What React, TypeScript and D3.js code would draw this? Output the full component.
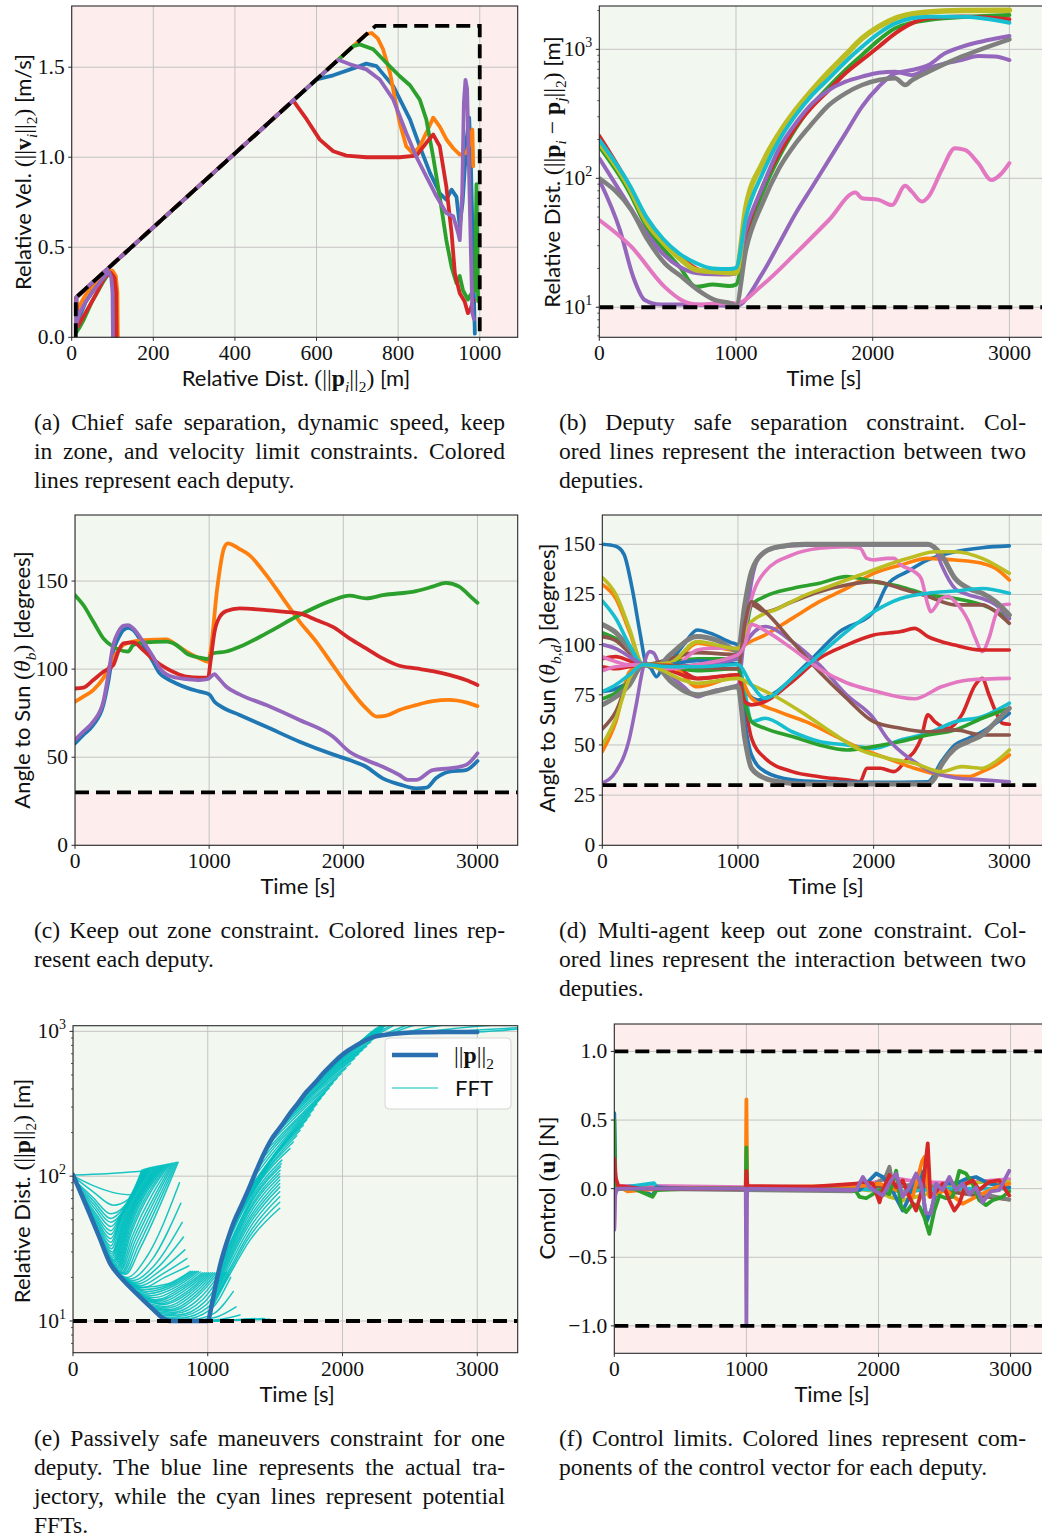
import React, { useLayoutEffect, useRef } from 'react';
import * as d3 from 'd3';

type Pt = [number, number];
type Seg = { t: string; f?: 'sans' | 'serif' | 'bold' | 'it'; sub?: boolean; sup?: boolean };

const SANS = 'Lato, "DejaVu Sans", sans-serif';
const SERIF = '"Liberation Serif", "DejaVu Serif", serif';
const PINK_BG = '#fdeded';
const GREEN_BG = '#f2f7ef';
const GRID = '#c4c4c4';
const SPINE = '#2a2a2a';
const C = {
  blue: '#1f77b4', orange: '#ff7f0e', green: '#2ca02c', red: '#d62728', purple: '#9467bd',
  brown: '#8c564b', pink: '#e377c2', gray: '#7f7f7f', olive: '#bcbd22', cyan: '#17becf',
};

// ---------- (a) speed vs distance ----------
const aXTicks = [0, 200, 400, 600, 800, 1000];
const aYTicks = [0, 0.5, 1.0, 1.5];
const aLimit: Pt[] = [[10, 0], [10, 0.2205], [745, 1.73], [1000, 1.73], [1000, 0]];
const aBlue: Pt[] = [[105, 0], [104, 0.25], [100, 0.33], [93, 0.36], [80, 0.34], [55, 0.27], [35, 0.2], [20, 0.12], [12, 0.06], [11, 0.22], [100, 0.405], [300, 0.816], [500, 1.227], [600, 1.432], [641, 1.455], [706, 1.506], [722, 1.52], [747, 1.506], [788, 1.395], [829, 1.21], [853, 1.06], [878, 0.913], [902, 0.8], [918, 0.764], [931, 0.82], [943, 0.78], [951, 0.62], [958, 0.75], [968, 1.1], [974, 1.22], [978, 1.0], [982, 0.6], [986, 0.2], [988, 0.02]];
const aOrange: Pt[] = [[113, 0], [112, 0.25], [108, 0.34], [100, 0.37], [90, 0.37], [70, 0.33], [45, 0.27], [30, 0.22], [20, 0.18], [12, 0.15], [11, 0.22], [100, 0.405], [300, 0.816], [500, 1.227], [700, 1.638], [722, 1.683], [735, 1.69], [750, 1.66], [763, 1.6], [780, 1.47], [796, 1.28], [804, 1.19], [820, 1.06], [837, 1.02], [853, 1.06], [869, 1.135], [886, 1.22], [902, 1.17], [918, 1.1], [935, 1.05], [951, 1.015], [967, 1.024], [976, 1.08], [982, 1.154], [984, 0.95]];
const aGreen: Pt[] = [[108, 0], [107, 0.25], [102, 0.33], [92, 0.36], [75, 0.3], [50, 0.2], [30, 0.1], [18, 0.05], [12, 0.03], [11, 0.22], [100, 0.405], [300, 0.816], [500, 1.227], [690, 1.617], [706, 1.627], [739, 1.6], [771, 1.525], [804, 1.45], [829, 1.4], [853, 1.32], [869, 1.21], [886, 1.0], [902, 0.78], [918, 0.54], [931, 0.39], [943, 0.3], [951, 0.34], [959, 0.26], [971, 0.21], [980, 0.245], [988, 0.26], [992, 0.85], [996, 0.2]];
const aRed: Pt[] = [[110, 0], [109, 0.25], [105, 0.33], [95, 0.36], [80, 0.33], [60, 0.24], [40, 0.16], [25, 0.1], [15, 0.06], [11, 0.22], [100, 0.405], [300, 0.816], [543, 1.315], [576, 1.21], [608, 1.098], [641, 1.033], [673, 1.009], [722, 1.0], [804, 1.0], [845, 1.009], [869, 1.08], [886, 1.126], [902, 1.061], [918, 0.839], [931, 0.579], [939, 0.356], [951, 0.245], [963, 0.199], [971, 0.134], [978, 0.16], [984, 0.208]];
const aPurple: Pt[] = [[101, 0], [100, 0.25], [97, 0.33], [92, 0.36], [85, 0.35], [60, 0.28], [35, 0.2], [20, 0.14], [12, 0.08], [11, 0.05], [11, 0.2], [12, 0.225], [100, 0.405], [300, 0.816], [500, 1.227], [653, 1.541], [682, 1.516], [722, 1.488], [755, 1.432], [788, 1.321], [820, 1.135], [845, 1.0], [869, 0.894], [894, 0.783], [918, 0.69], [935, 0.672], [947, 0.579], [951, 0.54], [957, 0.8], [961, 1.3], [965, 1.43], [969, 1.38], [973, 1.0], [978, 0.5], [982, 0.134], [986, 0.1]];

// ---------- (b) deputy separation ----------
const timeTicks = [0, 1000, 2000, 3000];
const bYTicks = [10, 100, 1000];
const bMinor = [6, 7, 8, 9, 20, 30, 40, 50, 60, 70, 80, 90, 200, 300, 400, 500, 600, 700, 800, 900, 2000];
const bGreen: Pt[] = [[0, 176], [223, 77], [345, 42], [466, 28.6], [587, 20.6], [708, 14.4], [830, 15], [951, 14.6], [1000, 15], [1073, 33], [1194, 77], [1316, 147], [1437, 244], [1558, 370], [1680, 513], [1801, 691], [1922, 904], [2044, 1180], [2165, 1455], [2408, 1690], [3000, 1845]];
const bRed: Pt[] = [[0, 213], [223, 86], [345, 47.5], [466, 33], [587, 24.7], [708, 20], [830, 18.1], [951, 18], [1000, 18.4], [1073, 37.5], [1194, 86], [1316, 156], [1437, 251], [1558, 360], [1680, 484], [1801, 652], [1922, 826], [2044, 1047], [2165, 1330], [2286, 1590], [2408, 1740], [2650, 1800], [3000, 1710]];
const bPurpleA: Pt[] = [[0, 143], [223, 60], [345, 37.5], [466, 26], [587, 20.6], [708, 18.4], [830, 18], [951, 18], [1000, 18.4], [1073, 39.8], [1194, 86], [1316, 171], [1437, 267], [1558, 381], [1680, 484], [1801, 561], [1922, 614], [2044, 659], [2165, 671], [2286, 631], [2408, 713], [2529, 777], [2650, 826], [2772, 887], [2893, 879], [3000, 826]];
const bPurpleB: Pt[] = [[0, 97], [150, 40], [250, 17], [332, 11.4], [450, 10.5], [660, 10.5], [1000, 10.2], [1194, 18.4], [1316, 31.3], [1437, 53.6], [1558, 86], [1680, 139], [1801, 223], [1922, 360], [2044, 513], [2165, 652], [2286, 691], [2408, 757], [2529, 931], [2650, 1047], [2845, 1180], [3000, 1270]];
const bPink: Pt[] = [[0, 47.5], [234, 29.5], [478, 14.4], [600, 11.4], [722, 10.5], [966, 10.8], [1000, 10.7], [1194, 14.9], [1437, 26.2], [1680, 47.5], [1874, 77.5], [1922, 70], [2044, 68], [2141, 62], [2238, 87.5], [2286, 78.8], [2359, 66], [2408, 72], [2505, 116], [2602, 171], [2675, 166], [2772, 131], [2869, 97], [2942, 109], [3000, 131]];
const bGray: Pt[] = [[0, 100], [234, 56.8], [356, 33], [478, 22], [600, 17.3], [722, 13.6], [844, 11.4], [966, 10.7], [1000, 10.3], [1073, 27.8], [1194, 64], [1316, 120], [1437, 187], [1558, 267], [1680, 370], [1801, 456], [1922, 529], [2044, 578], [2165, 596], [2238, 529], [2286, 575], [2408, 671], [2650, 877], [3000, 1197]];
const bOlive: Pt[] = [[0, 190], [223, 84], [345, 46], [466, 32], [587, 24], [708, 19.5], [830, 18.9], [1000, 18.5], [1073, 60], [1194, 131], [1316, 223], [1437, 339], [1558, 484], [1680, 671], [1801, 904], [1922, 1217], [2044, 1500], [2165, 1740], [2286, 1880], [2408, 1950], [2650, 2000], [3000, 2010]];
const bCyan: Pt[] = [[0, 198], [223, 88], [345, 50], [466, 34], [587, 26], [708, 22], [830, 20], [951, 19.8], [1000, 20.2], [1073, 50], [1194, 109], [1316, 198], [1437, 309], [1558, 443], [1680, 596], [1801, 802], [1922, 1047], [2044, 1330], [2165, 1590], [2286, 1740], [2408, 1790], [2650, 1790], [3000, 1610]];

// ---------- (c) keep out zone ----------
const cYTicks = [0, 50, 100, 150];
const cBlue: Pt[] = [[0, 57.9], [62, 62.6], [136, 68.3], [211, 79.6], [248, 92.9], [285, 110], [323, 117.5], [360, 122.2], [397, 123.5], [434, 122.2], [508, 113.7], [582, 104.2], [632, 97.6], [682, 94.8], [756, 91.9], [831, 89.5], [930, 87.2], [1000, 85.7], [1040, 81.5], [1090, 78.7], [1227, 74], [1426, 67.3], [1674, 58.8], [1922, 51.6], [2046, 48.4], [2170, 44.6], [2294, 38], [2418, 34.6], [2542, 32.3], [2620, 32.7], [2690, 38], [2790, 41.8], [2914, 42.7], [3000, 47.9]];
const cOrange: Pt[] = [[0, 81.5], [62, 84.4], [136, 88.1], [211, 94.8], [285, 106], [360, 113.7], [434, 115.6], [508, 116.5], [682, 116.9], [756, 113.7], [831, 110], [930, 106.1], [992, 104.2], [1010, 110], [1060, 145.8], [1110, 168.5], [1140, 171.4], [1220, 168.5], [1300, 164.7], [1426, 153.4], [1550, 140.2], [1674, 127], [1798, 115.6], [1922, 102.3], [2046, 89], [2170, 77.7], [2250, 73], [2320, 73.6], [2418, 76.8], [2542, 79.6], [2666, 81.9], [2790, 82.5], [2914, 81.1], [3000, 79]];
const cGreen: Pt[] = [[0, 142], [62, 136.4], [136, 127], [211, 117.5], [285, 112.7], [360, 110.3], [397, 110], [434, 113.7], [508, 115], [682, 115.6], [756, 113.7], [831, 109], [930, 106.5], [992, 105.7], [1029, 109], [1128, 110], [1227, 112.7], [1426, 120.3], [1674, 130.7], [1922, 139.2], [2046, 141.7], [2170, 140.2], [2294, 142], [2542, 144.3], [2666, 146.8], [2765, 149], [2864, 146.8], [2963, 140.2], [3000, 137.7]];
const cRed: Pt[] = [[0, 89], [62, 89.5], [136, 93.8], [211, 98.5], [285, 102.3], [323, 110], [360, 114.6], [434, 115.2], [508, 110.8], [582, 105.7], [682, 100.4], [756, 97.6], [831, 95.7], [930, 95.1], [992, 95.1], [1010, 104.2], [1040, 121.2], [1080, 129.8], [1128, 133], [1227, 134.5], [1426, 133.5], [1550, 132.6], [1674, 131.6], [1798, 127.9], [1922, 124], [2046, 117.5], [2170, 111.8], [2294, 106.1], [2418, 101.9], [2542, 100.4], [2666, 98.9], [2790, 96.7], [2914, 93.8], [3000, 91]];
const cPurple: Pt[] = [[0, 59.8], [62, 64.5], [136, 70.2], [211, 81.5], [248, 96.7], [285, 113.7], [323, 121.2], [360, 124.6], [397, 125], [434, 123.1], [508, 115.6], [582, 107], [632, 100.4], [682, 97], [756, 95.1], [831, 94.4], [930, 93.8], [992, 94.4], [1040, 97.2], [1060, 95.7], [1128, 90], [1227, 85.7], [1426, 79.6], [1674, 71.1], [1922, 61.7], [2046, 53.1], [2170, 48.4], [2294, 44.6], [2418, 39.9], [2480, 37.1], [2542, 37.1], [2666, 42.7], [2790, 43.7], [2914, 45.6], [3000, 52.2]];

// ---------- (d) multi-agent keep out zone ----------
const dYTicks = [0, 25, 50, 75, 100, 125, 150];
const dBlueA: Pt[] = [[0, 150], [100, 149], [160, 145], [220, 128], [280, 105], [320, 91], [360, 88], [400, 84], [440, 88], [500, 91.5], [600, 100], [700, 107.3], [800, 105.6], [950, 101], [1000, 99.8], [1030, 83], [1080, 75], [1150, 72.4], [1250, 75], [1500, 89.9], [1750, 106.5], [2000, 116.4], [2100, 129.7], [2250, 136.4], [2400, 142.2], [2600, 146.3], [2800, 148.3], [3000, 149.2]];
const dOrangeA: Pt[] = [[0, 130], [100, 123], [200, 106.5], [300, 90], [500, 90], [700, 100.7], [1000, 97], [1050, 99.8], [1200, 104.8], [1400, 113.1], [1600, 121.4], [1800, 128], [2000, 135.5], [2200, 139.7], [2400, 143], [2600, 142.2], [2800, 140.5], [2900, 138], [3000, 132.2]];
const dGreenA: Pt[] = [[0, 106], [100, 103], [200, 98], [300, 90], [500, 91], [700, 93], [1000, 93], [1050, 103.2], [1100, 119.8], [1200, 124], [1400, 128], [1600, 130.6], [1800, 133.9], [1900, 133], [2000, 131.4], [2200, 128.9], [2400, 124.8], [2600, 123], [2800, 119.8], [3000, 113.1]];
const dRedA: Pt[] = [[0, 93], [100, 94], [200, 92], [300, 90], [500, 90], [700, 83.2], [1000, 84.9], [1050, 70], [1100, 53.3], [1200, 43.4], [1400, 36.7], [1600, 34.2], [1800, 32.6], [1900, 31.7], [1950, 38.4], [2050, 38.4], [2150, 36.7], [2250, 43.4], [2300, 46.7], [2350, 53.3], [2400, 65], [2450, 61.6], [2550, 58.3], [2650, 65], [2750, 80], [2800, 83.2], [2850, 75], [2900, 66.6], [2950, 60.8], [3000, 60.3]];
const dPurpleA: Pt[] = [[0, 31], [100, 36.7], [200, 53.3], [250, 70], [300, 88.2], [350, 96.5], [380, 95.7], [420, 89.9], [500, 84.9], [600, 79], [700, 74], [800, 76.6], [1000, 80], [1050, 106.5], [1100, 131.4], [1150, 143], [1250, 148], [1500, 149.5], [2400, 149.7], [2450, 148], [2500, 139.7], [2600, 128], [2700, 124.8], [2800, 123], [2900, 119.8], [3000, 113]];
const dBrownA: Pt[] = [[0, 104], [100, 102], [200, 96], [300, 90], [700, 96], [1000, 95], [1050, 113], [1100, 119.8], [1200, 116.4], [1400, 121.4], [1600, 126.4], [1800, 129.7], [2000, 131.4], [2200, 128], [2400, 124], [2600, 119.8], [2800, 119.8], [2900, 116.4], [3000, 110.6]];
const dPinkA: Pt[] = [[0, 94], [100, 91.5], [200, 90], [300, 90], [500, 88], [700, 97.3], [800, 98.2], [1000, 98.2], [1050, 108], [1100, 123], [1200, 136.4], [1400, 144.7], [1600, 148], [1800, 148.8], [1900, 148], [1950, 143], [2000, 142.2], [2100, 143], [2150, 143], [2200, 139.7], [2300, 136.4], [2350, 133], [2400, 119.8], [2420, 116.4], [2500, 123], [2550, 124], [2600, 121.4], [2700, 111.5], [2750, 103.2], [2800, 96.5], [2850, 103.2], [2900, 114.8], [2950, 119.8], [3000, 120.1]];
const dGrayA: Pt[] = [[0, 110], [100, 106], [200, 98], [300, 90], [400, 89], [500, 95], [700, 104], [850, 102], [1000, 97], [1050, 119.8], [1100, 136.4], [1200, 146.3], [1300, 148.8], [1500, 150], [2400, 150], [2500, 144.7], [2600, 133], [2700, 128], [2800, 125.6], [2900, 121.4], [3000, 114.8]];
const dOliveA: Pt[] = [[0, 133.4], [100, 125], [200, 108], [300, 90], [500, 91], [700, 101.5], [1000, 98], [1100, 111.5], [1300, 118.1], [1500, 124.8], [1700, 129.7], [1900, 134.7], [2100, 139.7], [2300, 143.9], [2450, 146.3], [2600, 146.3], [2800, 143], [3000, 135.5]];
const dCyanA: Pt[] = [[0, 121.8], [100, 113], [200, 99.8], [300, 90], [500, 89], [700, 88], [1000, 90.7], [1050, 76.6], [1100, 61.6], [1200, 63.3], [1400, 56.6], [1600, 51.7], [1800, 50], [2000, 48.3], [2200, 52.5], [2400, 55.8], [2600, 61.6], [2800, 64.1], [3000, 70.8]];
const dBlueB: Pt[] = [[0, 76.6], [100, 78], [200, 82], [300, 90], [400, 89], [500, 90], [700, 92], [900, 91], [1000, 90], [1050, 61.6], [1100, 45], [1200, 36.7], [1400, 32.6], [1600, 31.7], [2000, 31.4], [2400, 31.7], [2500, 41.7], [2600, 50], [2700, 53.3], [2800, 56.6], [2900, 60.8], [3000, 65.8]];
const dOrangeB: Pt[] = [[0, 46.7], [100, 61.6], [200, 86.5], [300, 90], [500, 90], [700, 79], [1000, 84], [1100, 73.3], [1300, 66.6], [1500, 61.6], [1700, 55], [1900, 48.3], [2100, 43.4], [2300, 38.4], [2500, 35], [2700, 34.2], [2800, 36.7], [2900, 40], [3000, 45]];
const dGreenB: Pt[] = [[0, 73], [100, 76], [200, 82], [300, 90], [500, 89], [700, 87], [1000, 88], [1050, 71.6], [1100, 61.6], [1200, 58.3], [1400, 54.2], [1600, 50], [1800, 47.5], [2000, 49.2], [2200, 51.7], [2400, 55], [2600, 57.5], [2800, 63.3], [3000, 68.3]];
const dRedB: Pt[] = [[0, 89], [100, 88], [200, 89], [300, 90], [500, 87], [700, 83], [1000, 85], [1050, 71.6], [1100, 70], [1200, 71.6], [1400, 81.6], [1600, 93.2], [1800, 99.8], [2000, 104.8], [2200, 106.5], [2300, 108.1], [2400, 104], [2600, 99.8], [2800, 97.3], [3000, 97.3]];
const dPurpleB: Pt[] = [[0, 100], [100, 98], [200, 94], [300, 90], [500, 89], [700, 90], [1000, 93], [1050, 100], [1200, 109], [1400, 101.5], [1600, 89.9], [1800, 75], [2000, 63.3], [2100, 53.3], [2200, 46.7], [2300, 41.7], [2400, 37.5], [2500, 35], [2600, 33.7], [2800, 32.6], [3000, 31.7]];
const dBrownB: Pt[] = [[0, 58], [100, 66.6], [200, 83.2], [300, 90], [1000, 88], [1050, 110], [1100, 121.4], [1200, 116.4], [1400, 101.5], [1600, 86.5], [1800, 73.3], [2000, 61.6], [2200, 58.3], [2400, 56.6], [2600, 57.5], [2800, 55], [3000, 55]];
const dPinkB: Pt[] = [[0, 87], [100, 89], [300, 90], [500, 88], [700, 90], [1000, 95], [1050, 100], [1100, 110], [1200, 107], [1400, 98], [1600, 88], [1800, 81], [2000, 77], [2300, 73], [2500, 79], [2700, 82.4], [3000, 83.2]];
const dGrayB: Pt[] = [[0, 70], [100, 74], [200, 80], [300, 90], [400, 89], [500, 82], [700, 75], [850, 77], [1000, 79], [1050, 53.3], [1100, 38.4], [1200, 33.4], [1300, 31.7], [1500, 30.5], [2400, 30.5], [2450, 33.4], [2500, 40], [2600, 48.3], [2700, 51.7], [2800, 55], [2900, 61.6], [3000, 68.3]];
const dOliveB: Pt[] = [[0, 50], [100, 63.3], [200, 83.2], [300, 90], [700, 80.7], [1000, 83.2], [1100, 80], [1300, 73.3], [1500, 65], [1700, 55.8], [1900, 47.5], [2100, 43.4], [2300, 40.9], [2500, 36.7], [2650, 39.2], [2800, 38.4], [2900, 41.7], [3000, 47.5]];
const dCyanB: Pt[] = [[0, 76.6], [100, 80], [200, 85], [300, 90], [500, 89], [700, 89], [1000, 90], [1100, 80], [1200, 73.3], [1400, 83.2], [1600, 94.9], [1800, 106.5], [2000, 116.4], [2200, 123], [2400, 125.6], [2600, 126.7], [2800, 128], [3000, 125.6]];

// ---------- (e) passive safety, one deputy ----------
const eYTicks = [10, 100, 1000];
const eMinor = [7, 8, 9, 20, 30, 40, 50, 60, 70, 80, 90, 200, 300, 400, 500, 600, 700, 800, 900];
const eTraj: Pt[] = [[0, 102], [100, 62], [200, 37], [275, 25], [300, 23], [350, 20.2], [470, 15.5], [600, 11.9], [670, 10.4], [720, 10], [1000, 10], [1030, 13], [1060, 18], [1100, 26], [1150, 37], [1200, 50], [1250, 63], [1300, 80], [1362, 110], [1420, 145], [1485, 187], [1550, 225], [1608, 270], [1670, 320], [1732, 381], [1800, 445], [1855, 511], [1920, 590], [1979, 665], [2040, 735], [2103, 800], [2170, 865], [2226, 913], [2290, 940], [2350, 955], [2450, 975], [2600, 985], [3000, 990]];
const fftEarly: Pt[][] = [
  [[0, 102], [250, 104], [509, 108]],
  [[5, 100], [150, 86], [300, 77], [447, 74]],
  [[10, 98], [150, 78], [300, 63], [400, 68], [510, 110]],
  [[20, 92], [150, 71], [280, 55], [380, 62], [520, 111]],
  [[28, 89], [155, 67], [280, 51], [375, 60], [528, 111.5]],
  [[35, 86], [160, 63], [280, 48], [370, 57], [535, 112]],
  [[43, 83], [165, 59], [280, 45], [365, 56], [542, 112.5]],
  [[50, 80], [170, 55], [280, 42], [360, 55], [550, 113]],
  [[57, 77], [175, 52], [280, 39.5], [360, 54], [557, 113.5]],
  [[65, 74], [180, 49], [280, 37], [360, 53], [565, 114]],
  [[72, 71], [185, 46.5], [280, 35], [360, 52], [572, 114.5]],
  [[80, 69], [190, 44], [280, 33], [360, 51], [580, 115]],
  [[90, 65], [195, 41.5], [285, 31.5], [365, 50], [590, 115.5]],
  [[100, 62], [200, 39], [290, 30], [370, 49], [600, 116]],
  [[110, 59], [205, 37.5], [290, 29], [375, 48.5], [610, 116.5]],
  [[120, 56], [210, 36], [290, 28], [380, 48], [620, 117]],
  [[130, 53], [215, 34.5], [295, 27.2], [385, 47.5], [630, 117.5]],
  [[140, 51], [220, 33], [300, 26.5], [390, 47], [640, 118]],
  [[150, 48], [225, 31.7], [305, 26], [395, 46.5], [650, 118.5]],
  [[160, 46], [230, 30.5], [310, 25.5], [400, 46], [660, 119]],
  [[170, 43.5], [235, 29.7], [315, 25], [405, 45.5], [670, 119.5]],
  [[180, 41], [240, 29], [320, 24.5], [410, 45], [680, 120]],
  [[190, 39], [250, 28.2], [325, 24], [415, 44], [690, 120.5]],
  [[200, 37], [260, 27.5], [330, 23.5], [420, 43], [700, 121]],
  [[210, 35], [270, 26.5], [335, 23.2], [425, 41.5], [710, 121.5]],
  [[220, 33.5], [280, 25.5], [340, 22.8], [430, 40], [720, 122]],
  [[230, 31.7], [285, 25], [345, 22.4], [440, 38.5], [730, 122.5]],
  [[240, 30], [290, 24.5], [350, 22], [450, 37], [740, 123]],
  [[250, 28.5], [300, 24], [360, 21.7], [460, 35.5], [750, 123.5]],
  [[260, 27], [310, 23.5], [370, 21.5], [470, 34], [760, 124]],
  [[270, 25.7], [320, 22.7], [380, 21.2], [485, 33], [770, 124.5]],
  [[280, 24.5], [330, 22], [390, 21], [500, 32], [780, 125]],
  [[290, 23.5], [400, 20], [550, 28], [790, 90]],
  [[300, 23], [420, 19.5], [580, 26], [800, 65]],
  [[310, 22.4], [440, 19], [600, 24], [810, 48]],
  [[320, 21.8], [460, 18.5], [620, 23], [820, 38]],
  [[330, 21.3], [480, 18], [640, 22], [830, 31]],
  [[345, 20.6], [500, 17.5], [660, 21], [845, 27]],
  [[360, 20], [520, 17], [680, 20], [860, 24]],
];
const fftMid: Pt[][] = [
  [[370, 19.6], [500, 17], [700, 18], [870, 22]],
  [[385, 19], [525, 16.5], [725, 18], [885, 22]],
  [[400, 18.5], [550, 16], [750, 18], [900, 22]],
  [[415, 17.8], [565, 15.5], [765, 17.8], [915, 22]],
  [[430, 17], [580, 15], [780, 17.5], [930, 22]],
  [[445, 16.5], [595, 14.5], [795, 17.2], [945, 21.8]],
  [[460, 16], [610, 14], [810, 17], [960, 21.5]],
  [[475, 15.5], [625, 13.8], [825, 16.8], [975, 21.5]],
  [[490, 15], [640, 13.5], [840, 16.5], [990, 21.5]],
  [[505, 14.5], [655, 13.2], [855, 16.2], [1005, 21.5]],
  [[520, 14], [670, 13], [870, 16], [1020, 21.5]],
  [[535, 13.5], [685, 12.6], [885, 15.8], [1035, 21.5]],
  [[550, 13], [700, 12.3], [900, 15.5], [1050, 21.5]],
  [[565, 12.6], [715, 12], [915, 15.2], [1065, 21.5]],
  [[580, 12.3], [730, 11.8], [930, 15], [1080, 21.5]],
  [[595, 12], [745, 11.5], [945, 14.5], [1095, 21.5]],
  [[610, 11.6], [760, 11.3], [960, 14], [1110, 21.5]],
  [[625, 11.3], [775, 11], [975, 13.5], [1125, 21.6]],
  [[640, 11], [790, 10.8], [990, 13], [1140, 21.8]],
  [[655, 10.7], [805, 10.5], [1005, 12.5], [1155, 21]],
  [[670, 10.4], [820, 10.3], [1020, 12], [1170, 20]],
  [[690, 10.2], [840, 10.1], [1040, 11.2], [1190, 16]],
  [[710, 10], [860, 10], [1060, 10.6], [1210, 12.5]],
  [[740, 10], [900, 10], [1100, 10.3], [1240, 11]],
  [[780, 10], [1000, 10], [1300, 10.3]],
  [[850, 10], [1100, 10.1], [1350, 10.4]],
  [[920, 10], [1150, 10.1], [1420, 10.4]],
  [[990, 10], [1200, 10.1], [1460, 10.3]],
];
const fftLate: Pt[][] = [
  [[1025, 12], [1164, 21], [1312, 36], [1534, 60]],
  [[1030, 12.7], [1164, 22], [1312, 38.5], [1534, 66]],
  [[1035, 13.5], [1164, 23], [1312, 41], [1534, 72]],
  [[1040, 14.2], [1164, 24.5], [1312, 44], [1534, 78]],
  [[1045, 15], [1164, 26], [1312, 47], [1534, 84]],
  [[1050, 16], [1167, 27.5], [1312, 49.5], [1534, 89]],
  [[1055, 17], [1170, 29], [1312, 52], [1534, 94]],
  [[1060, 18], [1172, 30.5], [1312, 55], [1534, 99]],
  [[1065, 19], [1175, 32], [1312, 58], [1534, 104]],
  [[1072, 20.5], [1180, 34], [1316, 61], [1537, 110]],
  [[1080, 22], [1185, 36], [1320, 65], [1540, 116]],
  [[1088, 23.5], [1190, 38], [1325, 68], [1545, 122]],
  [[1095, 25], [1195, 40], [1330, 72], [1550, 129]],
  [[1120, 30], [1250, 55], [1400, 95], [1610, 155]],
  [[1135, 33], [1265, 60], [1425, 105], [1635, 172]],
  [[1150, 37], [1280, 65], [1450, 115], [1660, 190]],
  [[1175, 43], [1315, 75], [1475, 128], [1685, 207]],
  [[1200, 50], [1350, 85], [1500, 140], [1710, 225]],
  [[1225, 56], [1375, 95], [1530, 152], [1735, 245]],
  [[1250, 63], [1400, 105], [1560, 165], [1760, 265]],
  [[1275, 71], [1425, 115], [1590, 182], [1785, 290]],
  [[1300, 80], [1450, 125], [1620, 200], [1810, 315]],
  [[1330, 95], [1475, 142], [1650, 222], [1840, 345]],
  [[1362, 110], [1500, 160], [1680, 245], [1870, 375]],
  [[1390, 127], [1530, 180], [1710, 270], [1900, 405]],
  [[1420, 145], [1560, 200], [1740, 295], [1930, 440]],
  [[1450, 165], [1590, 225], [1770, 328], [1960, 475]],
  [[1485, 187], [1620, 250], [1800, 360], [1990, 510]],
  [[1515, 205], [1650, 275], [1830, 395], [2025, 555]],
  [[1550, 225], [1680, 300], [1860, 430], [2060, 600]],
  [[1580, 248], [1710, 328], [1890, 465], [2090, 650]],
  [[1608, 270], [1740, 355], [1920, 500], [2120, 700]],
  [[1640, 295], [1770, 388], [1950, 540], [2150, 745]],
  [[1670, 320], [1800, 420], [1980, 580], [2180, 790]],
  [[1700, 350], [1830, 455], [2010, 620], [2210, 845]],
  [[1732, 381], [1860, 490], [2040, 660], [2240, 900]],
  [[1765, 412], [1890, 525], [2070, 710], [2270, 975]],
  [[1800, 445], [1920, 560], [2100, 760], [2300, 1050]],
  [[1830, 480], [1950, 600], [2130, 820], [2330, 1120]],
  [[1855, 511], [1980, 640], [2160, 880], [2360, 1200]],
  [[1890, 550], [2010, 680], [2190, 940]],
  [[1920, 590], [2040, 720], [2220, 1000]],
  [[1950, 628], [2070, 760], [2250, 1050]],
  [[1979, 665], [2100, 800], [2280, 1100]],
  [[2040, 735], [2170, 880], [2340, 1200]],
  [[2103, 800], [2226, 950], [2400, 1250]],
  [[2170, 865], [2290, 1010], [2450, 1250]],
  [[2226, 913], [2350, 1060], [2500, 1250]],
  [[2290, 940], [2450, 1080], [2600, 1250]],
  [[2350, 955], [2500, 1080], [2700, 1200]],
  [[2450, 975], [2650, 1070], [2900, 1150]],
  [[2600, 985], [2800, 1040], [3100, 1100]],
  [[2800, 988], [3000, 1020], [3300, 1060]],
  [[3000, 990], [3150, 1010], [3300, 1040]],
];

// ---------- (f) control ----------
const fYTicks = [-1.0, -0.5, 0.0, 0.5, 1.0];
const fBlue: Pt[] = [[0, 0.55], [8, 0.1], [20, 0], [150, 0.01], [290, -0.05], [320, 0.01], [600, 0], [995, 0], [1000, -0.06], [1010, 0], [1800, 0], [1857, -0.01], [1907, 0.036], [1982, 0.11], [2033, 0.085], [2108, -0.02], [2184, -0.16], [2234, -0.06], [2285, 0.085], [2322, 0.13], [2360, -0.25], [2398, -0.16], [2448, 0.01], [2511, 0.036], [2587, 0.036], [2662, 0.07], [2738, 0.085], [2838, 0.036], [2990, 0.01]];
const fOrange: Pt[] = [[0, 0.1], [10, 0.05], [30, 0.02], [100, -0.02], [200, -0.01], [400, 0], [995, 0], [1000, 0.65], [1006, 0.02], [1050, 0.01], [1800, 0.02], [1882, 0.02], [2008, 0.036], [2134, -0.01], [2259, -0.06], [2330, 0.2], [2348, 0.23], [2385, -0.06], [2511, -0.01], [2637, -0.11], [2738, -0.06], [2889, 0.01], [2990, 0.036]];
const fGreen: Pt[] = [[0, 0.5], [6, 0.1], [20, 0], [150, 0], [290, -0.06], [320, -0.01], [600, 0], [995, 0], [1000, 0.3], [1006, 0.01], [1800, -0.01], [1831, -0.02], [1857, -0.06], [1907, -0.07], [2008, -0.01], [2083, -0.04], [2134, 0.13], [2171, -0.13], [2209, -0.17], [2259, -0.11], [2310, -0.13], [2348, -0.21], [2385, -0.33], [2423, -0.16], [2461, -0.05], [2511, -0.07], [2561, -0.06], [2612, 0.13], [2662, 0.11], [2713, 0.036], [2763, -0.085], [2814, -0.12], [2864, -0.085], [2940, -0.06], [2990, -0.02]];
const fRed: Pt[] = [[0, 0.22], [10, 0.08], [30, 0.02], [200, 0], [995, 0], [1000, 0.13], [1008, 0.02], [1500, 0.015], [1831, 0.036], [1882, 0.05], [1957, 0.036], [2008, -0.1], [2033, -0.01], [2083, 0.1], [2134, 0.01], [2184, 0.06], [2234, -0.06], [2285, -0.16], [2335, 0.01], [2373, 0.33], [2393, -0.06], [2436, -0.02], [2486, 0.036], [2536, -0.085], [2574, -0.16], [2612, -0.11], [2662, 0.036], [2713, 0.06], [2763, -0.01], [2838, 0.05], [2914, 0.06], [2990, -0.05]];
const fPurple: Pt[] = [[0, -0.3], [6, -0.05], [20, 0], [995, 0], [1000, -1.0], [1005, -0.02], [1020, 0], [1800, -0.01], [1831, -0.01], [1882, 0.085], [1932, 0.01], [1982, -0.02], [2033, -0.05], [2096, 0.06], [2134, 0.11], [2184, -0.06], [2234, 0.01], [2285, 0.11], [2322, 0.036], [2360, -0.18], [2398, -0.18], [2436, 0.036], [2486, -0.01], [2536, 0.085], [2587, -0.01], [2637, 0.036], [2688, -0.04], [2738, 0.01], [2788, -0.1], [2851, -0.02], [2914, -0.01], [2990, 0.13]];
const fGray: Pt[] = [[0, 0.02], [20, 0], [1800, -0.02], [1950, 0.02], [2050, 0.08], [2083, 0.16], [2110, 0.02], [2300, 0.03], [2600, 0.0], [2990, -0.08]];
const fOlive: Pt[] = [[0, 0], [1800, 0], [2000, -0.02], [2083, -0.06], [2184, -0.085], [2285, -0.06], [2400, -0.03], [2600, 0.03], [2800, 0.05], [2990, 0.05]];
const fPink: Pt[] = [[0, -0.28], [8, -0.02], [60, 0.02], [150, 0.02], [300, 0.02], [1800, 0.0], [2100, 0.08], [2300, 0.05], [2600, 0.04], [2990, 0.07]];
const fCyan: Pt[] = [[0, 0.0], [300, 0.04], [330, 0.0], [1800, 0], [2200, -0.02], [2500, 0.0], [2990, 0.0]];
const fBrown: Pt[] = [[0, 0.0], [1800, 0.0], [2200, 0.02], [2990, -0.08]];

// ---------- captions ----------
const capA = ['(a) Chief safe separation, dynamic speed, keep', 'in zone, and velocity limit constraints. Colored', 'lines represent each deputy.'];
const capB = ['(b) Deputy safe separation constraint. Col-', 'ored lines represent the interaction between two', 'deputies.'];
const capC = ['(c) Keep out zone constraint. Colored lines rep-', 'resent each deputy.'];
const capD = ['(d) Multi-agent keep out zone constraint. Col-', 'ored lines represent the interaction between two', 'deputies.'];
const capE = ['(e) Passively safe maneuvers constraint for one', 'deputy. The blue line represents the actual tra-', 'jectory, while the cyan lines represent potential', 'FFTs.'];
const capF = ['(f) Control limits. Colored lines represent com-', 'ponents of the control vector for each deputy.'];

// ---------- scales ----------
const xA = d3.scaleLinear().domain([0, 1093]).range([71.7, 517.7]);
const yA = d3.scaleLinear().domain([0, 1.84]).range([337.3, 6]);
const xB = d3.scaleLinear().domain([0, 3300]).range([599.3, 1050.4]);
const yB = d3.scaleLog().domain([5.85, 2168]).range([337.3, 6]);
const xC = d3.scaleLinear().domain([0, 3300]).range([75, 517.7]);
const yC = d3.scaleLinear().domain([0, 187.5]).range([845.3, 515]);
const xD = d3.scaleLinear().domain([0, 3300]).range([602.3, 1050]);
const yD = d3.scaleLinear().domain([0, 164.6]).range([845.3, 515]);
const xE = d3.scaleLinear().domain([0, 3300]).range([73, 517.7]);
const yE = d3.scaleLog().domain([6.04, 1094]).range([1352.7, 1025.7]);
const xF = d3.scaleLinear().domain([0, 3300]).range([614.3, 1050.2]);
const yF = d3.scaleLinear().domain([-1.2, 1.2]).range([1353.3, 1024]);

type Scale = (v: number) => number;

function Line({ data, x, y, color, w = 3.8, curve = d3.curveLinear, op = 1 }: { data: Pt[]; x: Scale; y: Scale; color: string; w?: number; curve?: d3.CurveFactory; op?: number }) {
  const gen = d3.line<Pt>().x(d => x(d[0])).y(d => y(d[1])).curve(curve);
  return <path d={gen(data) || ''} fill="none" stroke={color} strokeWidth={w} strokeOpacity={op} strokeLinejoin="round" strokeLinecap="round" />;
}

function Dash({ x0, x1, y0, y1 }: { x0: number; x1: number; y0: number; y1: number }) {
  return <line x1={x0} x2={x1} y1={y0} y2={y1} stroke="#000" strokeWidth={3.8} strokeDasharray="14 7" />;
}

// text with mixed sans words and serif math; sub/superscripts via dy
function MText({ x, y, segs, size = 22, anchor = 'middle', rotate = false }: { x: number; y: number; segs: Seg[]; size?: number; anchor?: string; rotate?: boolean }) {
  let cur = 0;
  return (
    <text x={x} y={y} textAnchor={anchor} fill="#111" transform={rotate ? `rotate(-90 ${x} ${y})` : undefined}>
      {segs.map((s, i) => {
        const target = s.sub ? size * 0.28 : s.sup ? -size * 0.42 : 0;
        const dy = target - cur;
        cur = target;
        const sans = !s.f || s.f === 'sans';
        const base = sans ? size : size * 1.08;
        return (
          <tspan key={i} dy={dy} fontFamily={sans ? SANS : SERIF} fontWeight={s.f === 'bold' ? 'bold' : 'normal'} fontStyle={s.f === 'it' ? 'italic' : 'normal'} fontSize={s.sub || s.sup ? size * 0.7 : base}>
            {s.t}
          </tspan>
        );
      })}
    </text>
  );
}

function Panel({ id, x, y, xTicks, yTicks, yFmt, minorY = [], bg, children }: {
  id: string; x: d3.ScaleLinear<number, number>; y: any; xTicks: number[]; yTicks: number[];
  yFmt: (v: number) => React.ReactNode; minorY?: number[]; bg: React.ReactNode; children: React.ReactNode;
}) {
  const [x0, x1] = x.range();
  const [yb, yt] = y.range();
  return (
    <g>
      <defs>
        <clipPath id={id}><rect x={x0} y={yt} width={x1 - x0} height={yb - yt} /></clipPath>
      </defs>
      <g clipPath={`url(#${id})`}>
        {bg}
        {xTicks.map(t => <line key={'gx' + t} x1={x(t)} x2={x(t)} y1={yt} y2={yb} stroke={GRID} strokeWidth={1} />)}
        {yTicks.map(t => <line key={'gy' + t} x1={x0} x2={x1} y1={y(t)} y2={y(t)} stroke={GRID} strokeWidth={1} />)}
        {children}
      </g>
      <rect x={x0} y={yt} width={x1 - x0} height={yb - yt} fill="none" stroke={SPINE} strokeWidth={1.1} />
      {xTicks.map(t => (
        <g key={'tx' + t}>
          <line x1={x(t)} x2={x(t)} y1={yb} y2={yb + 3.5} stroke={SPINE} />
          <text x={x(t)} y={yb + 23} textAnchor="middle" fontFamily={SERIF} fontSize={21.5} fill="#111">{t}</text>
        </g>
      ))}
      {yTicks.map(t => (
        <g key={'ty' + t}>
          <line x1={x0 - 3.5} x2={x0} y1={y(t)} y2={y(t)} stroke={SPINE} />
          <text x={x0 - 7} y={y(t) + 7} textAnchor="end" fontFamily={SERIF} fontSize={21.5} fill="#111">{yFmt(t)}</text>
        </g>
      ))}
      {minorY.map(t => <line key={'my' + t} x1={x0 - 2} x2={x0} y1={y(t)} y2={y(t)} stroke={SPINE} strokeWidth={0.8} />)}
    </g>
  );
}

const fmt1 = (v: number) => (v < 0 ? '\u2212' : '') + Math.abs(v).toFixed(1);
const fmtInt = (v: number) => String(v);
const fmtPow = (v: number) => (
  <>
    <tspan>10</tspan>
    <tspan dy={-9} fontSize={14}>{Math.round(Math.log10(v))}</tspan>
  </>
);

// justified caption: extra room goes into the word spaces, last line left as is
function Caption({ x, y, width, lines }: { x: number; y: number; width: number; lines: string[] }) {
  const ref = useRef<SVGGElement>(null);
  useLayoutEffect(() => {
    if (!ref.current) return;
    ref.current.querySelectorAll('text[data-j="1"]').forEach(node => {
      const el = node as SVGTextElement;
      el.setAttribute('word-spacing', '0');
      const len = el.getComputedTextLength();
      const spaces = (el.textContent || '').split(' ').length - 1;
      if (spaces > 0) el.setAttribute('word-spacing', String((width - len) / spaces));
    });
  }, [width, lines]);
  return (
    <g ref={ref} fontFamily={SERIF} fontSize={23.6} fill="#111">
      {lines.map((l, i) => (
        <text key={i} x={x} y={y + i * 29} data-j={i < lines.length - 1 ? '1' : '0'}>{l}</text>
      ))}
    </g>
  );
}

const mono = d3.curveMonotoneX;

export default function App() {
  const limitPoly = aLimit.map(p => `${xA(p[0])},${yA(p[1])}`).join(' ');
  const timeLabel: Seg[] = [{ t: 'Time [s]' }];
  return (
    <svg width={1042} height={1539} style={{ position: 'absolute', left: 0, top: 0, background: '#fff' }}>
      {/* (a) */}
      <Panel id="ca" x={xA} y={yA} xTicks={aXTicks} yTicks={aYTicks} yFmt={fmt1}
        bg={<>
          <rect x={71.7} y={6} width={446} height={331.3} fill={PINK_BG} />
          <polygon points={limitPoly} fill={GREEN_BG} />
        </>}>
        <Line data={aBlue} x={xA} y={yA} color={C.blue} />
        <Line data={aOrange} x={xA} y={yA} color={C.orange} />
        <Line data={aGreen} x={xA} y={yA} color={C.green} />
        <Line data={aRed} x={xA} y={yA} color={C.red} />
        <Line data={aPurple} x={xA} y={yA} color={C.purple} />
        <path d={d3.line<Pt>().x(d => xA(d[0])).y(d => yA(d[1]))(aLimit) || ''} fill="none" stroke="#000" strokeWidth={3.8} strokeDasharray="14 7" />
      </Panel>
      <MText x={296} y={386} segs={[{ t: 'Relative Dist.  ' }, { t: '(||', f: 'serif' }, { t: 'p', f: 'bold' }, { t: 'i', f: 'it', sub: true }, { t: '||', f: 'serif' }, { t: '2', f: 'serif', sub: true }, { t: ')', f: 'serif' }, { t: ' [m]' }]} />
      <MText x={31} y={172} rotate segs={[{ t: 'Relative Vel.  ' }, { t: '(||', f: 'serif' }, { t: 'v', f: 'bold' }, { t: 'i', f: 'it', sub: true }, { t: '||', f: 'serif' }, { t: '2', f: 'serif', sub: true }, { t: ')', f: 'serif' }, { t: ' [m/s]' }]} />

      {/* (b) */}
      <Panel id="cb" x={xB} y={yB} xTicks={timeTicks} yTicks={bYTicks} yFmt={fmtPow} minorY={bMinor}
        bg={<>
          <rect x={599.3} y={6} width={451} height={331.3} fill={GREEN_BG} />
          <rect x={599.3} y={yB(10)} width={451} height={337.3 - yB(10)} fill={PINK_BG} />
        </>}>
        <Line data={bGreen} x={xB} y={yB} color={C.green} curve={mono} w={4} />
        <Line data={bRed} x={xB} y={yB} color={C.red} curve={mono} w={4} />
        <Line data={bPurpleA} x={xB} y={yB} color={C.purple} curve={mono} w={4} />
        <Line data={bPurpleB} x={xB} y={yB} color={C.purple} curve={mono} w={4} />
        <Line data={bPink} x={xB} y={yB} color={C.pink} curve={mono} w={4} />
        <Line data={bGray} x={xB} y={yB} color={C.gray} curve={mono} w={4.5} />
        <Line data={bOlive} x={xB} y={yB} color={C.olive} curve={mono} w={5.5} />
        <Line data={bCyan} x={xB} y={yB} color={C.cyan} curve={mono} w={4} />
        <Dash x0={599.3} x1={1050} y0={yB(10)} y1={yB(10)} />
      </Panel>
      <MText x={824} y={386} segs={timeLabel} />
      <MText x={560} y={172} rotate segs={[{ t: 'Relative Dist.  ' }, { t: '(||', f: 'serif' }, { t: 'p', f: 'bold' }, { t: 'i', f: 'it', sub: true }, { t: ' \u2212 ', f: 'serif' }, { t: 'p', f: 'bold' }, { t: 'j', f: 'it', sub: true }, { t: '||', f: 'serif' }, { t: '2', f: 'serif', sub: true }, { t: ')', f: 'serif' }, { t: ' [m]' }]} />

      {/* (c) */}
      <Panel id="cc" x={xC} y={yC} xTicks={timeTicks} yTicks={cYTicks} yFmt={fmtInt}
        bg={<>
          <rect x={75} y={515} width={443} height={330.3} fill={GREEN_BG} />
          <rect x={75} y={yC(30)} width={443} height={845.3 - yC(30)} fill={PINK_BG} />
        </>}>
        <Line data={cBlue} x={xC} y={yC} color={C.blue} curve={mono} />
        <Line data={cOrange} x={xC} y={yC} color={C.orange} curve={mono} />
        <Line data={cGreen} x={xC} y={yC} color={C.green} curve={mono} />
        <Line data={cRed} x={xC} y={yC} color={C.red} curve={mono} />
        <Line data={cPurple} x={xC} y={yC} color={C.purple} curve={mono} />
        <Dash x0={75} x1={518} y0={yC(30)} y1={yC(30)} />
      </Panel>
      <MText x={298} y={894} segs={timeLabel} />
      <MText x={30} y={680} rotate segs={[{ t: 'Angle to Sun ' }, { t: '(', f: 'serif' }, { t: '\u03b8', f: 'it' }, { t: 'b', f: 'it', sub: true }, { t: ')', f: 'serif' }, { t: ' [degrees]' }]} />

      {/* (d) */}
      <Panel id="cd" x={xD} y={yD} xTicks={timeTicks} yTicks={dYTicks} yFmt={fmtInt}
        bg={<>
          <rect x={602.3} y={515} width={448} height={330.3} fill={GREEN_BG} />
          <rect x={602.3} y={yD(30)} width={448} height={845.3 - yD(30)} fill={PINK_BG} />
        </>}>
        {[
          [dBlueA, C.blue], [dOrangeA, C.orange], [dGreenA, C.green], [dRedA, C.red], [dPurpleA, C.purple],
          [dBrownA, C.brown], [dPinkA, C.pink], [dGrayA, C.gray], [dOliveA, C.olive], [dCyanA, C.cyan],
          [dBlueB, C.blue], [dOrangeB, C.orange], [dGreenB, C.green], [dRedB, C.red], [dPurpleB, C.purple],
          [dBrownB, C.brown], [dPinkB, C.pink], [dGrayB, C.gray], [dOliveB, C.olive], [dCyanB, C.cyan],
        ].map(([data, color], i) => (
          <Line key={i} data={data as Pt[]} x={xD} y={yD} color={color as string} curve={mono} w={color === C.gray ? 5 : 3.6} />
        ))}
        <Dash x0={602.3} x1={1050} y0={yD(30)} y1={yD(30)} />
      </Panel>
      <MText x={826} y={894} segs={timeLabel} />
      <MText x={555} y={678} rotate segs={[{ t: 'Angle to Sun ' }, { t: '(', f: 'serif' }, { t: '\u03b8', f: 'it' }, { t: 'b,d', f: 'it', sub: true }, { t: ')', f: 'serif' }, { t: ' [degrees]' }]} />

      {/* (e) */}
      <Panel id="ce" x={xE} y={yE} xTicks={timeTicks} yTicks={eYTicks} yFmt={fmtPow} minorY={eMinor}
        bg={<>
          <rect x={73} y={1025.7} width={445} height={327} fill={GREEN_BG} />
          <rect x={73} y={yE(10)} width={445} height={1352.7 - yE(10)} fill={PINK_BG} />
        </>}>
        {[...fftEarly, ...fftMid, ...fftLate].map((d, i) => (
          <Line key={i} data={d} x={xE} y={yE} color="#00bfbf" w={1.5} curve={mono} op={0.9} />
        ))}
        <Line data={eTraj} x={xE} y={yE} color="#2a70b0" w={4.5} curve={mono} />
        <Dash x0={73} x1={518} y0={yE(10)} y1={yE(10)} />
      </Panel>
      <g>
        <rect x={385} y={1038} width={126} height={71} rx={4} fill="#fff" fillOpacity={0.85} stroke="#d6d6d6" />
        <line x1={392} x2={438} y1={1055} y2={1055} stroke="#2a70b0" strokeWidth={4.5} />
        <MText x={454} y={1063} anchor="start" segs={[{ t: '||', f: 'serif' }, { t: 'p', f: 'bold' }, { t: '||', f: 'serif' }, { t: '2', f: 'serif', sub: true }]} />
        <line x1={392} x2={438} y1={1088} y2={1088} stroke="#00bfbf" strokeWidth={1.2} />
        <MText x={455} y={1096} anchor="start" segs={[{ t: 'FFT' }]} />
      </g>
      <MText x={297} y={1402} segs={timeLabel} />
      <MText x={30} y={1191} rotate segs={[{ t: 'Relative Dist.  ' }, { t: '(||', f: 'serif' }, { t: 'p', f: 'bold' }, { t: '||', f: 'serif' }, { t: '2', f: 'serif', sub: true }, { t: ')', f: 'serif' }, { t: ' [m]' }]} />

      {/* (f) */}
      <Panel id="cf" x={xF} y={yF} xTicks={timeTicks} yTicks={fYTicks} yFmt={fmt1}
        bg={<>
          <rect x={614.3} y={1024} width={436} height={329.3} fill={PINK_BG} />
          <rect x={614.3} y={yF(1)} width={436} height={yF(-1) - yF(1)} fill={GREEN_BG} />
        </>}>
        {[
          [fBrown, C.brown], [fPink, C.pink], [fGray, C.gray], [fOlive, C.olive], [fCyan, C.cyan],
          [fBlue, C.blue], [fOrange, C.orange], [fGreen, C.green], [fRed, C.red], [fPurple, C.purple],
        ].map(([data, color], i) => (
          <Line key={i} data={data as Pt[]} x={xF} y={yF} color={color as string} w={3.8} />
        ))}
        <Dash x0={614.3} x1={1050} y0={yF(1)} y1={yF(1)} />
        <Dash x0={614.3} x1={1050} y0={yF(-1)} y1={yF(-1)} />
      </Panel>
      <MText x={832} y={1402} segs={timeLabel} />
      <MText x={555} y={1188} rotate segs={[{ t: 'Control ' }, { t: '(', f: 'serif' }, { t: 'u', f: 'bold' }, { t: ')', f: 'serif' }, { t: ' [N]' }]} />

      {/* captions */}
      <Caption x={34} y={430} width={471} lines={capA} />
      <Caption x={559} y={430} width={467} lines={capB} />
      <Caption x={34} y={938} width={471} lines={capC} />
      <Caption x={559} y={938} width={467} lines={capD} />
      <Caption x={34} y={1446} width={471} lines={capE} />
      <Caption x={559} y={1446} width={467} lines={capF} />
    </svg>
  );
}
